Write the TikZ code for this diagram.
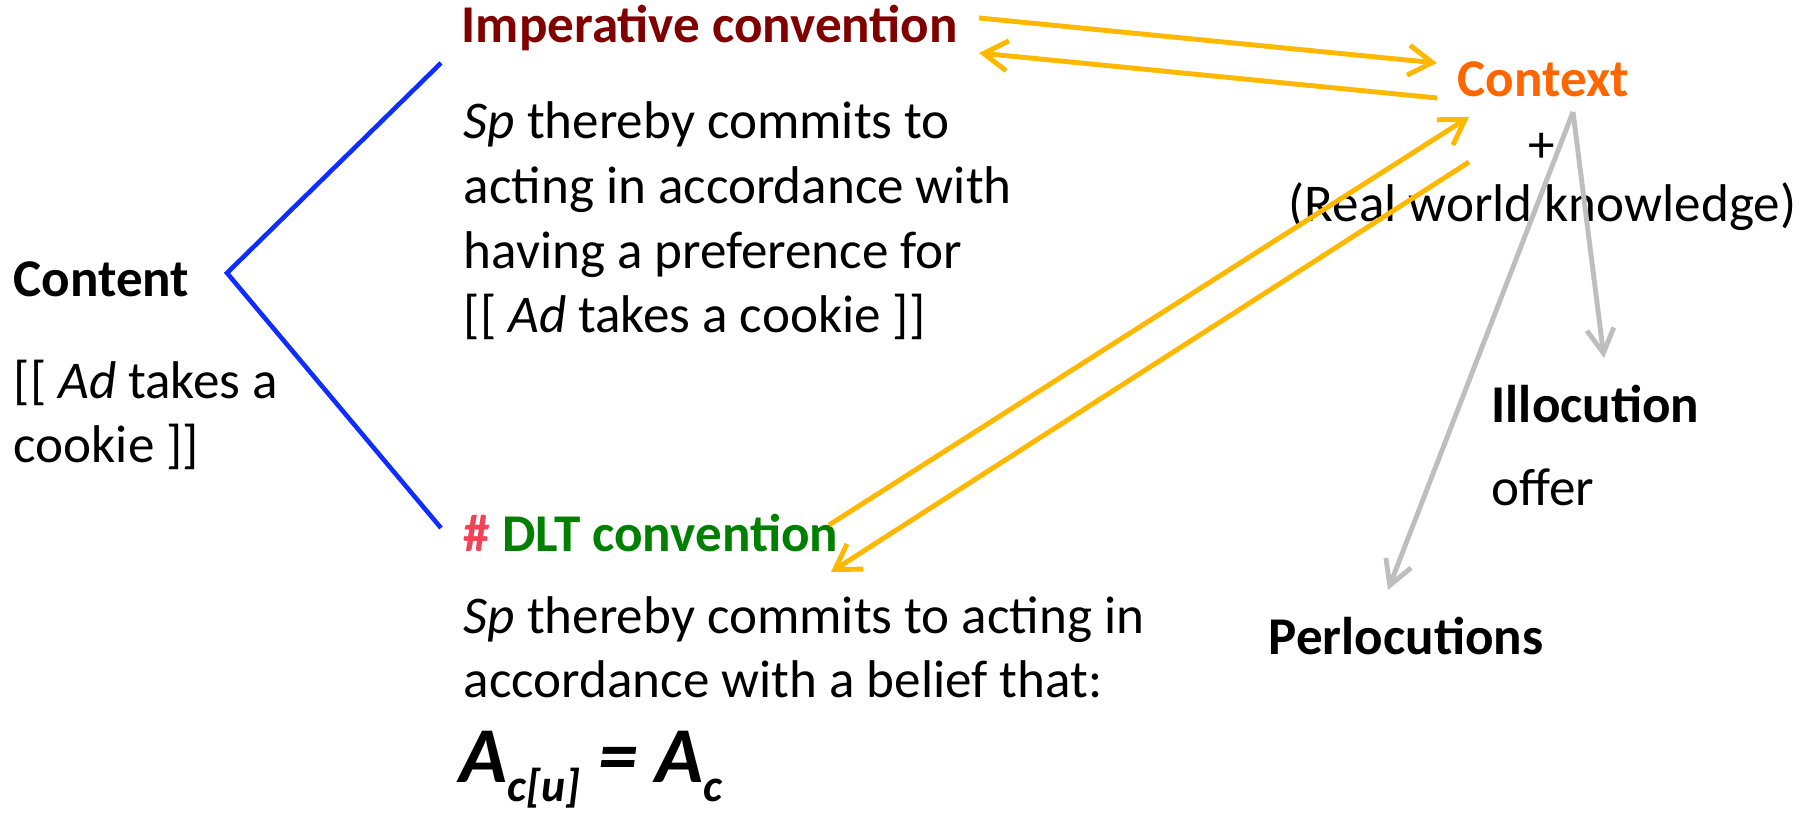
\documentclass[tikz,border=0pt]{standalone}
\usepackage{fontspec}
\setmainfont{Carlito}
\usetikzlibrary{arrows.meta}

\definecolor{impred}{RGB}{128,0,0}
\definecolor{dltgreen}{RGB}{0,128,0}
\definecolor{hashred}{RGB}{245,65,85}
\definecolor{ctxorange}{RGB}{255,102,0}
\definecolor{linkorange}{RGB}{255,184,0}
\definecolor{forkblue}{RGB}{15,45,255}
\definecolor{effgray}{RGB}{190,190,190}

\tikzset{
    txt/.style={anchor=base west, inner sep=0pt, align=left, font=\fontsize{15.1pt}{18.4pt}\selectfont},
    headtxt/.style={txt, font=\fontsize{15.1pt}{18.4pt}\selectfont\bfseries},
    link/.style={line width=1.4pt, linkorange, -{Straight Barb[length=2.4mm, width=3mm]}},
    effect/.style={line width=1.4pt, effgray, -{Straight Barb[length=2.4mm, width=2.7mm]}},
    fork/.style={line width=1.3pt, forkblue},
}

\begin{document}
\begin{tikzpicture}[x=0.01cm, y=-0.01cm]
        \useasboundingbox (0,0) rectangle (1815,813);

        \node[headtxt, impred] (imp) at (461,43) {Imperative convention};
        \node[txt] (impbody) at (463,333) {\textit{Sp} thereby commits to\\acting in accordance with\\having a preference for\\{[[} \textit{Ad} takes a cookie ]]};
        \node[headtxt] (content) at (13,297) {Content};
        \node[txt] (contentbody) at (13,463) {{[[} \textit{Ad} takes a\\cookie ]]};
        \node[headtxt] (dlt) at (463,552) {\textcolor{hashred}{\#} \textcolor{dltgreen}{DLT convention}};
        \node[txt] (dltbody) at (463,698) {\textit{Sp} thereby commits to acting in\\accordance with a belief that:};
        \node[txt, font=\fontsize{22.5pt}{26pt}\selectfont\bfseries\itshape] (eq) at (459,783)
            {A\raisebox{-5.4pt}{\fontsize{13pt}{14pt}\selectfont c[u]} = A\raisebox{-5.4pt}{\fontsize{13pt}{14pt}\selectfont c}};
        \node[headtxt, ctxorange] (context) at (1457,97) {Context};
        \node[txt, anchor=center] (plus) at (1542,148) {+};
        \node[txt] (rwk) at (1288,222) {(Real world knowledge)};
        \node[headtxt] (illoc) at (1491,423) {Illocution};
        \node[txt] (offer) at (1491,506) {offer};
        \node[headtxt] (perloc) at (1268,655) {Perlocutions};

        \coordinate (forktip) at (227,273);
        \coordinate (forkimp) at (441,63);
        \coordinate (forkdlt) at (441,528);
        \draw[fork] (forkimp) -- (forktip) -- (forkdlt);

        \coordinate (impout) at (979,18);
        \coordinate (impin) at (979,53);
        \coordinate (ctximpin) at (1437,63);
        \coordinate (ctximpout) at (1437,98);
        \coordinate (dltout) at (829,525);
        \coordinate (dltin) at (831,572);
        \coordinate (ctxdltin) at (1469,117);
        \coordinate (ctxdltout) at (1469,162);
        \draw[link] (impout) -- (ctximpin);
        \draw[link] (ctximpout) -- (impin);
        \draw[link] (dltout) -- (ctxdltin);
        \draw[link] (ctxdltout) -- (dltin);

        \coordinate (ctxbase) at (1573,112);
        \coordinate (illocin) at (1604,358);
        \coordinate (perlocin) at (1388,590);
        \draw[effect] (ctxbase) -- (illocin);
        \draw[effect] (ctxbase) -- (perlocin);
\end{tikzpicture}
\end{document}
